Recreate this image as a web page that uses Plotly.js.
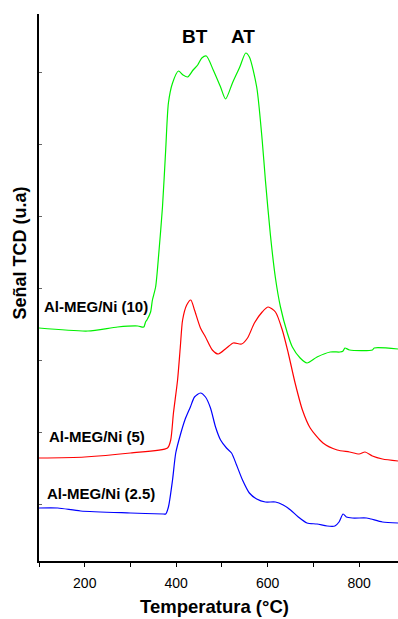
<!DOCTYPE html>
<html>
<head>
<meta charset="utf-8">
<script src="https://cdn.plot.ly/plotly-3.0.1.min.js"></script>
<style>
html,body{margin:0;padding:0;background:#fff;}
#chart{width:398px;height:619px;}
</style>
</head>
<body>
<div id="chart"></div>
<script>
// Temperature (°C) and TCD signal (a.u.)
const tempGreen = [100, 207, 272, 316, 329, 333, 336, 344, 348, 355, 362, 370, 377, 383, 392, 405, 415, 425, 437, 447, 456, 466, 481, 497, 508, 523, 539, 552, 560, 576, 588, 595, 606, 617, 628, 643, 654, 671, 686, 708, 737, 758, 765, 769, 779, 829, 833, 885];
const sigGreen  = [233, 230, 234, 235, 234, 239, 241, 249, 261, 274, 308, 354, 411, 458, 478, 490, 486, 484, 491, 496, 503, 505, 491, 474, 462, 478, 494, 508, 504, 474, 421, 381, 326, 283, 254, 228, 214, 203, 198, 204, 209, 209, 210, 213, 211, 211, 213, 212];

const tempRed = [100, 200, 300, 381, 388, 394, 403, 409, 414, 423, 432, 440, 453, 464, 479, 492, 510, 525, 543, 556, 571, 588, 601, 617, 632, 645, 660, 676, 693, 721, 752, 779, 800, 813, 829, 851, 885];
const sigRed  = [103, 104, 108, 113, 121, 148, 181, 214, 241, 256, 261, 251, 233, 224, 211, 207, 213, 218, 217, 223, 238, 249, 254, 249, 231, 208, 178, 151, 133, 118, 111, 109, 107, 109, 105, 102, 100];

const tempBlue = [100, 141, 191, 300, 372, 377, 383, 392, 399, 409, 419, 431, 440, 453, 464, 475, 486, 497, 510, 521, 532, 545, 560, 576, 595, 617, 634, 650, 667, 686, 708, 730, 747, 756, 765, 772, 785, 816, 826, 851, 885];
const sigBlue  = [53, 53, 50, 48, 47, 47, 54, 81, 108, 126, 141, 154, 164, 168, 164, 153, 134, 121, 113, 108, 96, 81, 68, 62, 59, 59, 56, 51, 44, 38, 37, 35, 35, 39, 47, 44, 43, 43, 42, 39, 38];

const seriesNames = ["Al-MEG/Ni (10)", "Al-MEG/Ni (5)", "Al-MEG/Ni (2.5)"];
const peakLabels = ["BT", "AT"];

const lineStyle = (c) => ({color: c, width: 1.2, shape: 'spline', smoothing: 0.7});
const traces = [
  {x: tempGreen, y: sigGreen, type: 'scatter', mode: 'lines', line: lineStyle('rgb(0,240,0)'), name: seriesNames[0], hoverinfo: 'skip'},
  {x: tempRed, y: sigRed, type: 'scatter', mode: 'lines', line: lineStyle('rgb(255,0,0)'), name: seriesNames[1], hoverinfo: 'skip'},
  {x: tempBlue, y: sigBlue, type: 'scatter', mode: 'lines', line: lineStyle('rgb(0,0,255)'), name: seriesNames[2], hoverinfo: 'skip'}
];

const F = 'Arial, "Liberation Sans", sans-serif';
const lab = (text, x, y, size, xa) => ({
  text: text, x: x, y: y, xref: 'paper', yref: 'paper', showarrow: false,
  xanchor: xa, yanchor: 'middle', font: {family: F, size: size, color: '#000', weight: 'bold'}
});

const layout = {
  width: 398, height: 619,
  margin: {l: 38.5, r: 0, t: 14, b: 58},
  paper_bgcolor: '#fff', plot_bgcolor: '#fff',
  showlegend: false,
  font: {family: F, color: '#000'},
  xaxis: {
    range: [100, 885], tick0: 200, dtick: 200,
    ticks: 'outside', ticklen: 4, tickwidth: 1, tickcolor: '#000',
    minor: {dtick: 100, tick0: 100, ticks: 'outside', ticklen: 4, tickcolor: '#000'},
    showline: true, linecolor: '#000', linewidth: 1.5,
    showgrid: false, zeroline: false,
    tickfont: {family: F, size: 14, color: '#000'},
    ticklabelstandoff: 5
  },
  xaxis2: {
    overlaying: 'x', side: 'top', anchor: 'y', range: [100, 885], tick0: 100, dtick: 100,
    ticks: 'inside', ticklen: 3, tickcolor: '#555', showticklabels: false,
    showline: true, linecolor: '#000', linewidth: 1.5, showgrid: false, zeroline: false
  },
  yaxis: {
    range: [0, 547], tick0: 57, dtick: 72,
    ticks: 'inside', ticklen: 3, tickcolor: '#666',
    showticklabels: false, showline: true, linecolor: '#000', linewidth: 1.8,
    showgrid: false, zeroline: false
  },
  annotations: [
    lab(seriesNames[0], 0.0097, 0.466, 15, 'left'),
    lab(seriesNames[1], 0.0236, 0.2267, 15, 'left'),
    lab(seriesNames[2], 0.018, 0.1225, 15, 'left'),
    lab(peakLabels[0], 0.434, 0.958, 19, 'center'),
    lab(peakLabels[1], 0.569, 0.958, 19, 'center'),
    lab('Temperatura (°C)', 0.488, -0.083, 18.5, 'center'),
    Object.assign(lab('Señal TCD (u.a)', -0.0515, 0.563, 18, 'center'), {textangle: -90})
  ]
};

Plotly.newPlot('chart', traces, layout, {staticPlot: true, displayModeBar: false});
</script>
</body>
</html>
